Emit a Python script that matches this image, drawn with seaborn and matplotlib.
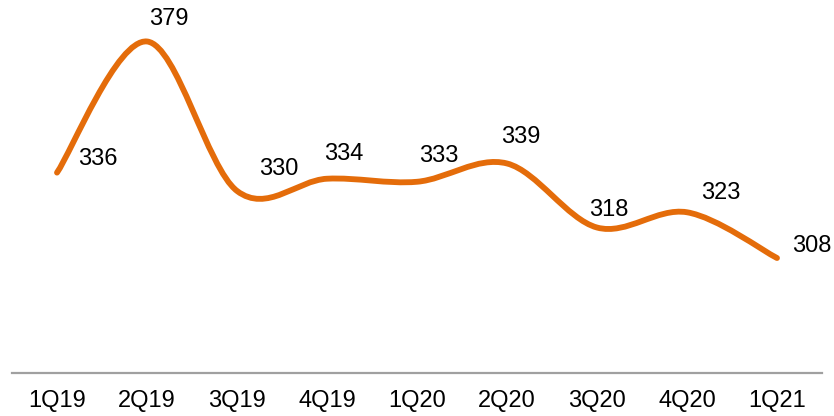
import matplotlib
matplotlib.use("Agg")
import matplotlib.pyplot as plt
from matplotlib.path import Path
from matplotlib.patches import PathPatch
import seaborn as sns

# Quarterly values
quarters = ["1Q19", "2Q19", "3Q19", "4Q19", "1Q20", "2Q20", "3Q20", "4Q20", "1Q21"]
values = [336, 379, 330, 334, 333, 339, 318, 323, 308]
# label offsets from each point, in pixels (dx right, dy up)
label_dx = [41, 22, 42, 17, 22, 14, 12, 34, 35]
label_dy = [16, 25, 24, 27, 28, 29, 20, 22, 15]

sns.set_theme(style="white")
plt.rcParams["font.family"] = ["Liberation Sans", "DejaVu Sans"]

fig = plt.figure(figsize=(8.34, 4.16), dpi=100)
ax = fig.add_axes([12 / 834, 1 - 373 / 416, 810 / 834, 373 / 416])

color = "#E46C0A"
xs = list(range(len(values)))

# smoothed line (Catmull-Rom as cubic Bezier segments)
verts = [(xs[0], values[0])]
codes = [Path.MOVETO]
n = len(values)
for i in range(n - 1):
    p0 = (xs[max(i - 1, 0)], values[max(i - 1, 0)])
    p1 = (xs[i], values[i])
    p2 = (xs[i + 1], values[i + 1])
    p3 = (xs[min(i + 2, n - 1)], values[min(i + 2, n - 1)])
    c1 = (p1[0] + (p2[0] - p0[0]) / 6, p1[1] + (p2[1] - p0[1]) / 6)
    c2 = (p2[0] - (p3[0] - p1[0]) / 6, p2[1] - (p3[1] - p1[1]) / 6)
    verts += [c1, c2, p2]
    codes += [Path.CURVE4] * 3
ax.add_patch(PathPatch(Path(verts, codes), facecolor="none", edgecolor=color,
                       lw=4.2, capstyle="round", joinstyle="round"))

for x, v, dx, dy in zip(xs, values, label_dx, label_dy):
    ax.annotate(str(v), (x, v), xytext=(dx, dy), textcoords="offset pixels",
                ha="center", va="center_baseline", fontsize=17, color="black")

ax.set_xlim(-0.5, 8.5)
ax.set_ylim(270.3, 392.6)
ax.set_xticks(xs)
ax.set_xticklabels(quarters, fontsize=17)
ax.set_yticks([])
ax.tick_params(axis="x", length=0, pad=12, colors="black")
sns.despine(ax=ax, left=True)
ax.spines["bottom"].set_color("#A0A0A0")
ax.spines["bottom"].set_linewidth(1.6)

fig.savefig("out.png", dpi=100)
